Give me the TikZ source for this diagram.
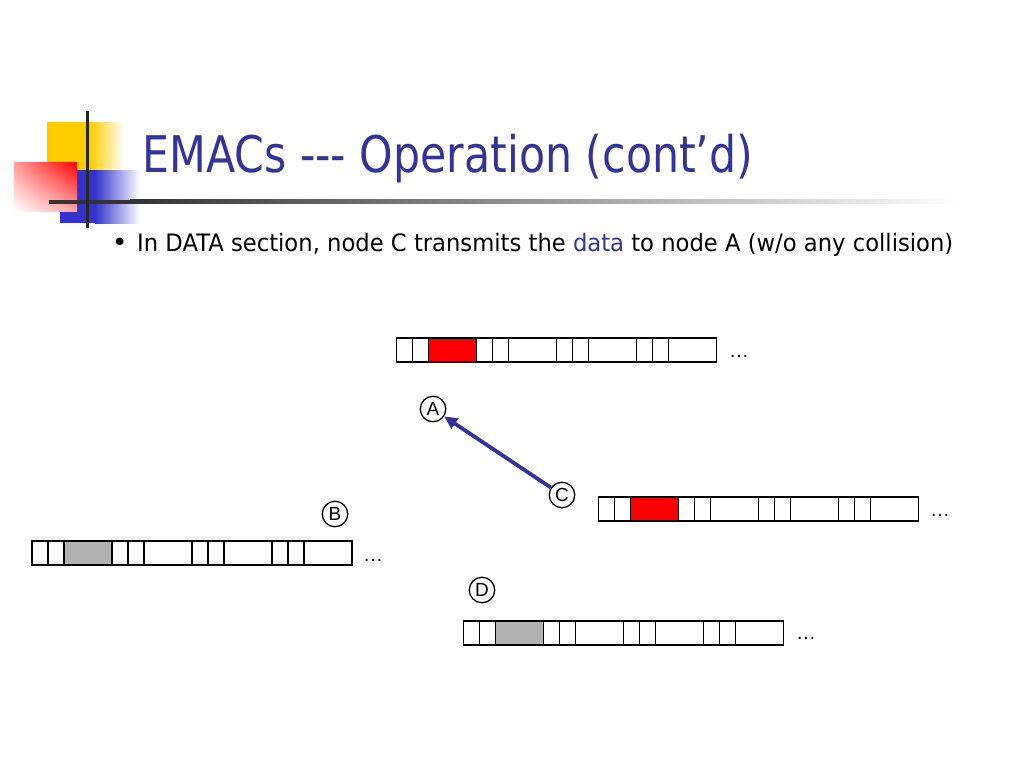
\documentclass[tikz,border=0pt]{standalone}
\usepackage{fontspec}
\setmainfont{DejaVu Sans}
\newfontfamily\lsans{Liberation Sans}
\usetikzlibrary{arrows.meta,shadings}
\definecolor{titleblue}{HTML}{333399}
\definecolor{arrowblue}{HTML}{333399}
\definecolor{decoyellow}{HTML}{FFCC00}
\definecolor{decoblue}{HTML}{3333CC}
\definecolor{slotgray}{HTML}{B2B2B2}
\tikzset{
  slot/.style={draw=black, line width=1.6pt},
  station/.style={circle, draw=black, line width=1.3pt, minimum size=25.5pt, inner sep=0pt,
    font=\lsans\fontsize{19}{20}\selectfont},
  moredots/.style={anchor=base west, inner sep=0pt, font=\lsans\fontsize{20}{22}\selectfont},
}
\newcommand\slotbar[3]{%
  \fill[#3] (#1+32,#2) rectangle (#1+80,#2+24);
  \foreach \a/\b in {0/16,16/32,32/80,80/96,96/112,112/160,160/176,176/192,192/240,240/256,256/272,272/320}
    \draw[slot] (#1+\a,#2) rectangle (#1+\b,#2+24);
}
\begin{document}
\begin{tikzpicture}[x=1pt,y=-1pt]
\useasboundingbox (0,0) rectangle (1024,768);
\fill[white] (0,0) rectangle (1024,768);
% decoration
\fill[decoyellow] (47,122) rectangle (90,170);
\shade[left color=decoyellow, right color=white] (90,122) rectangle (124,170);
\fill[decoblue] (60,170) rectangle (95,223);
\shade[left color=decoblue, right color=white] (95,170) rectangle (140,223);
\shade[upper right=red, upper left=red!40, lower right=red!35, lower left=white] (14,162) rectangle (77,211);
\fill[black!80] (49,199.5) rectangle (130,203.5);
\shade[left color=black!80, right color=white] (130,199.5) rectangle (962,203.5);
\draw[line width=3pt, black!85] (87.5,111) -- (87.5,228);
% title and bullet
\node[anchor=base west, text=titleblue, inner sep=0pt, font=\fontsize{50.5}{60}\selectfont] (title) at (142,172)
  {\resizebox{611pt}{\height}{EMACs -{}-{}- Operation (cont’d)}};
\node[anchor=base west, inner sep=0pt, font=\fontsize{26}{28}\selectfont] (bulletmark) at (112,251.5) {•};
\node[anchor=base west, inner sep=0pt, font=\fontsize{24}{28}\selectfont] (bullet) at (137,251.5)
  {\resizebox{816pt}{\height}{In DATA section, node C transmits the \textcolor{titleblue}{data} to node A (w/o any collision)}};
% slot bars
\slotbar{396.5}{338}{red}
\slotbar{598.5}{497}{red}
\slotbar{32}{541}{slotgray}
\slotbar{463.5}{621}{slotgray}
\node[moredots] (dotsA) at (729,357.5) {…};
\node[moredots] (dotsC) at (930,516.5) {…};
\node[moredots] (dotsB) at (363,561.5) {…};
\node[moredots] (dotsD) at (796,639.5) {…};
% stations
\node[station] (A) at (433,409) {A};
\node[station] (B) at (335,514) {B};
\node[station] (C) at (562,495) {C};
\node[station] (D) at (482,590) {D};
\draw[-{Triangle[length=13pt,width=12pt]}, line width=3.8pt, arrowblue] (C) -- (A);
\end{tikzpicture}
\end{document}
